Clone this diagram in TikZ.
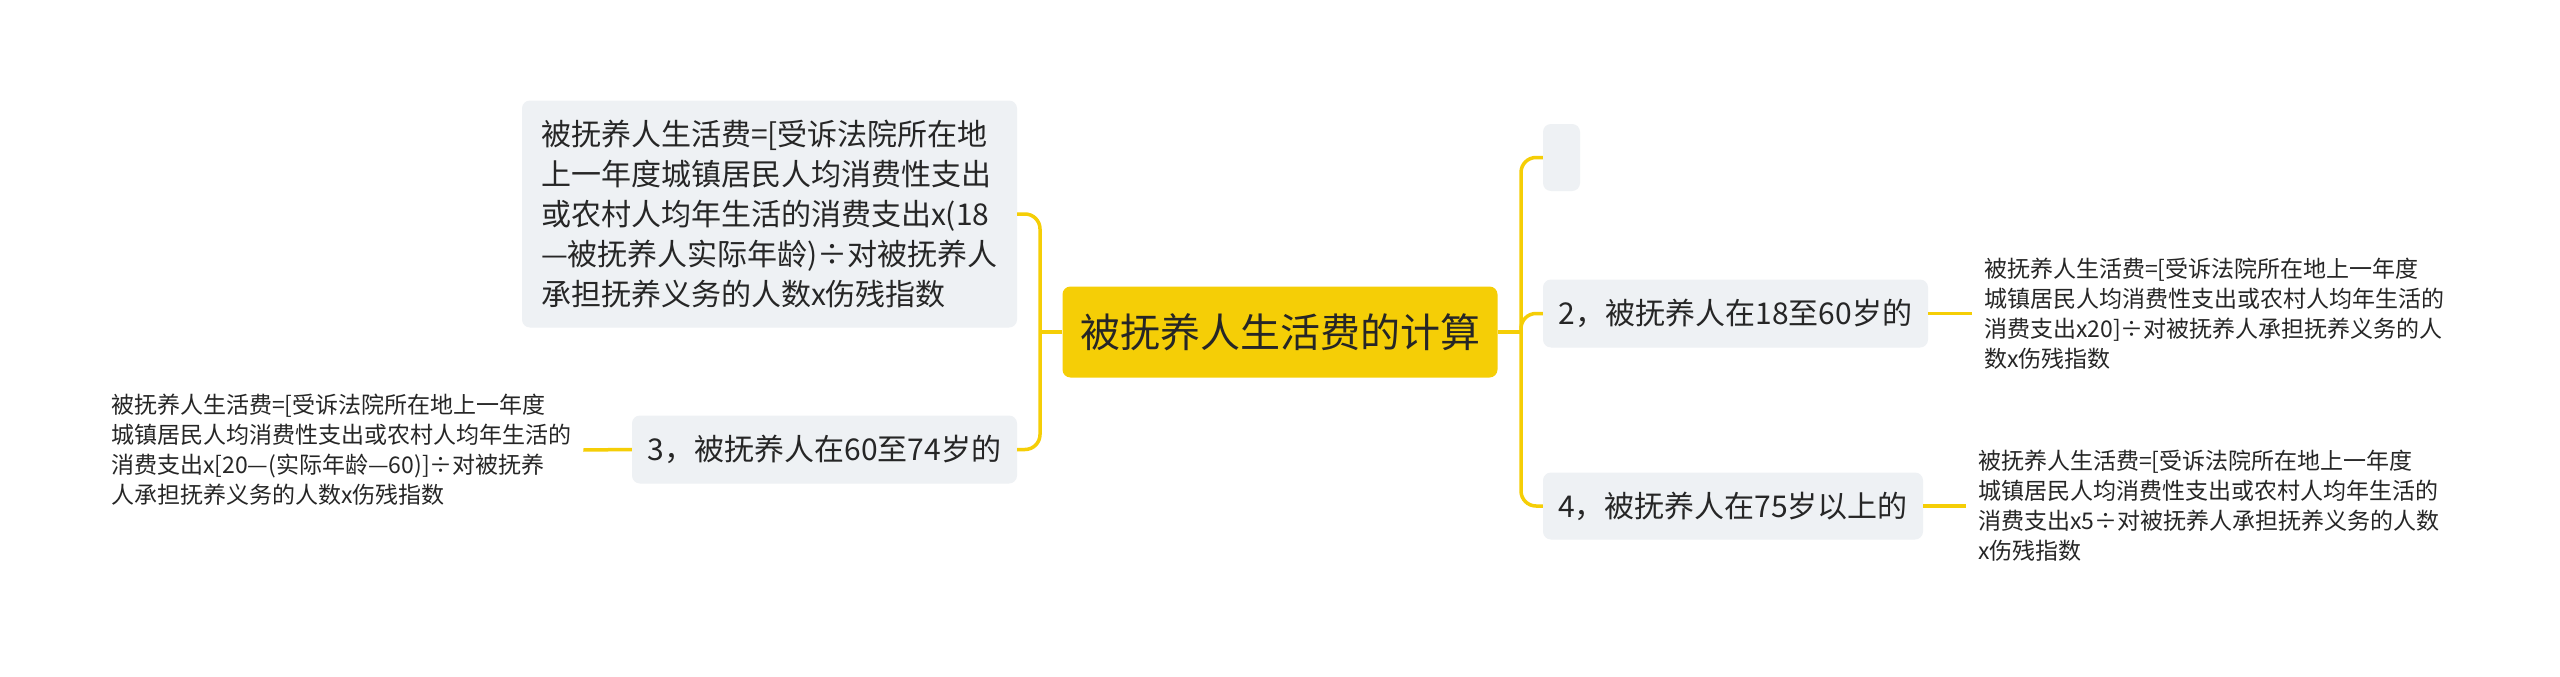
\documentclass[tikz,border=0pt]{standalone}
\usepackage{fontspec}
\newfontfamily\cjk{Noto Sans CJK SC}
\definecolor{myyellow}{RGB}{245,206,6}
\definecolor{nodegray}{RGB}{238,241,244}
\definecolor{txt}{RGB}{38,38,38}
\begin{document}
\begin{tikzpicture}[x=1pt,y=-1pt,
  conn/.style={draw=myyellow, line width=3.5pt},
  rootbox/.style={fill=myyellow, rounded corners=8pt, inner sep=0pt, text=txt,
    minimum width=435pt, minimum height=91pt, font=\cjk\fontsize{40}{48}\selectfont},
  graybox/.style={fill=nodegray, rounded corners=8pt, inner sep=0pt, text=txt, align=left,
    font=\cjk\fontsize{30}{40}\selectfont},
  leaf/.style={inner xsep=12pt, inner ysep=0pt, text=txt, align=left,
    font=\cjk\fontsize{23}{30}\selectfont}]
\fill[white] (0,0) rectangle (2560,677);
\useasboundingbox (0,0) rectangle (2560,677);

\node[rootbox] (c) at (1280,332) {被抚养人生活费的计算};

\node[graybox, minimum width=495pt, minimum height=227pt] (lb) at (769.5,214)
  {被抚养人生活费=[受诉法院所在地\\
   上一年度城镇居民人均消费性支出\\
   或农村人均年生活的消费支出x(18\\
   —被抚养人实际年龄)÷对被抚养人\\
   承担抚养义务的人数x伤残指数};

\node[graybox, minimum width=385pt, minimum height=68pt] (n3) at (824.5,449.5)
  {3，被抚养人在60至74岁的};

\node[graybox, minimum width=37pt, minimum height=67pt] (e) at (1561.5,157.5) {};

\node[graybox, minimum width=385pt, minimum height=68pt] (n2) at (1735.5,313.5)
  {2，被抚养人在18至60岁的};

\node[graybox, minimum width=380pt, minimum height=67pt] (n4) at (1733,506)
  {4，被抚养人在75岁以上的};

\node[leaf, anchor=west] (l3) at (99,450)
  {被抚养人生活费=[受诉法院所在地上一年度\\
   城镇居民人均消费性支出或农村人均年生活的\\
   消费支出x[20—(实际年龄—60)]÷对被抚养\\
   人承担抚养义务的人数x伤残指数};

\node[leaf, anchor=west] (l2) at (1972,313.5)
  {被抚养人生活费=[受诉法院所在地上一年度\\
   城镇居民人均消费性支出或农村人均年生活的\\
   消费支出x20]÷对被抚养人承担抚养义务的人\\
   数x伤残指数};

\node[leaf, anchor=west] (l4) at (1966,506)
  {被抚养人生活费=[受诉法院所在地上一年度\\
   城镇居民人均消费性支出或农村人均年生活的\\
   消费支出x5÷对被抚养人承担抚养义务的人数\\
   x伤残指数};

\coordinate (tL) at (1040,332);
\coordinate (tR) at (1521,332);

\draw[conn] (c.west) -- (tL);
\draw[conn, rounded corners=15pt] (lb.east) -| (tL) |- (n3.east);
\draw[conn] (c.east) -- (tR);
\draw[conn, rounded corners=15pt] (e.west) -| (tR) |- (n4.west);
\draw[conn, rounded corners=15pt] (tR) |- (n2.west);

\draw[conn] (n3.west) -- (l3.east);
\draw[conn] (n2.east) -- (l2.west);
\draw[conn] (n4.east) -- (l4.west);
\end{tikzpicture}
\end{document}
